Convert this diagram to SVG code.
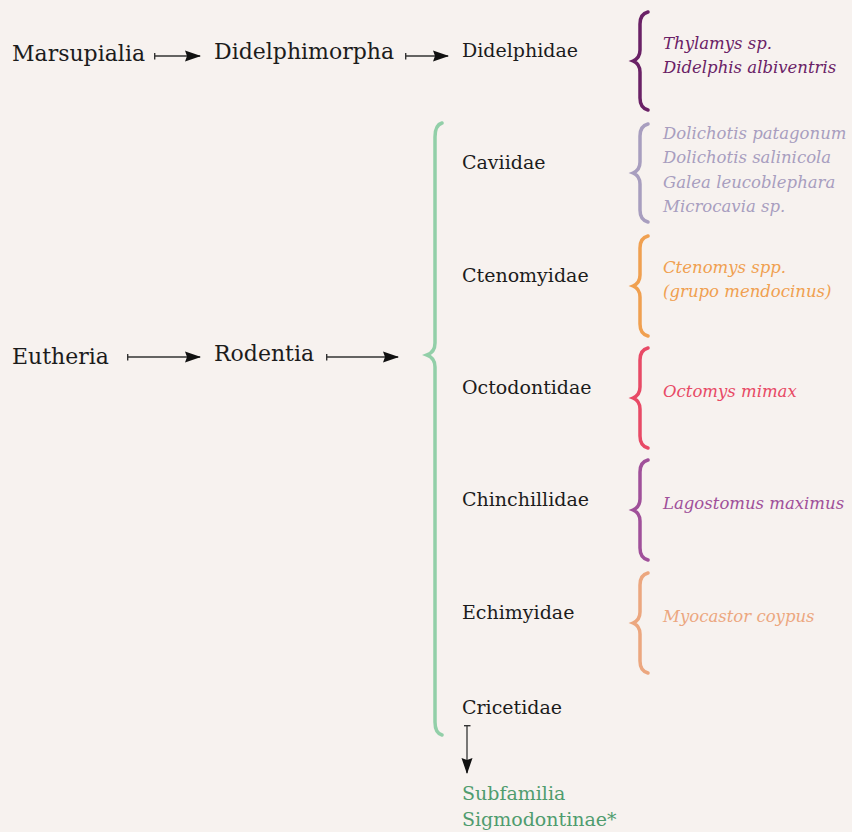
<svg xmlns="http://www.w3.org/2000/svg" width="852" height="832" viewBox="0 0 852 832">
<style>
.big{font-family:"DejaVu Serif","Liberation Serif",serif;font-size:22px;fill:#1c1c1c}
.fam{font-family:"DejaVu Serif","Liberation Serif",serif;font-size:19px;fill:#1c1c1c}
.sp{font-family:"DejaVu Serif","Liberation Serif",serif;font-style:italic;font-size:16.5px}
.br{fill:none;stroke-width:3.5;stroke-linecap:round}
.con{stroke:#333;stroke-width:1.3;fill:none;marker-start:url(#tick);marker-end:url(#head)}
</style>
<defs>
<marker id="head" markerUnits="userSpaceOnUse" viewBox="0 0 16 12" markerWidth="16" markerHeight="12" refX="15" refY="6" orient="auto">
<path d="M0,0.5 L16,6 L0,11.5 L2,6 z" fill="#111"/>
</marker>
<marker id="tick" markerUnits="userSpaceOnUse" viewBox="0 0 2 7" markerWidth="2" markerHeight="7" refX="1" refY="3.5" orient="auto">
<rect x="0" y="0" width="1.4" height="7" fill="#333"/>
</marker>
</defs>
<rect width="852" height="832" fill="#f7f2ef"/>
<g id="connectors">
<line class="con" x1="155" y1="56" x2="200" y2="56"/>
<line class="con" x1="406" y1="56" x2="448" y2="56"/>
<line class="con" x1="128" y1="357" x2="200" y2="357"/>
<line class="con" x1="327" y1="357" x2="398" y2="357"/>
<line class="con" x1="467" y1="726" x2="467" y2="773"/>
<path class="br" stroke="#92cfa8" stroke-width="4" d="M442,123 Q435,125 435,137 L435,343 Q435,352 427,355 Q435,358 435,367 L435,722 Q435,733 442,735"/>
</g>
<g id="n-marsupialia"><text class="big" x="12" y="61">Marsupialia</text></g>
<g id="n-didelphimorpha"><text class="big" x="214" y="59">Didelphimorpha</text></g>
<g id="n-didelphidae"><text class="fam" x="462" y="57">Didelphidae</text></g>
<g id="n-eutheria"><text class="big" x="12" y="364">Eutheria</text></g>
<g id="n-rodentia"><text class="big" x="214" y="361">Rodentia</text></g>
<g id="n-caviidae"><text class="fam" x="462" y="169">Caviidae</text></g>
<g id="n-ctenomyidae"><text class="fam" x="462" y="282">Ctenomyidae</text></g>
<g id="n-octodontidae"><text class="fam" x="462" y="394">Octodontidae</text></g>
<g id="n-chinchillidae"><text class="fam" x="462" y="506">Chinchillidae</text></g>
<g id="n-echimyidae"><text class="fam" x="462" y="619">Echimyidae</text></g>
<g id="n-cricetidae"><text class="fam" x="462" y="714">Cricetidae</text></g>
<g id="n-sigmodontinae"><text class="fam" x="462" y="800" style="fill:#4f9c6e">Subfamilia</text><text class="fam" x="462" y="826" style="fill:#4f9c6e">Sigmodontinae*</text></g>
<g id="s-didelphidae">
<path class="br" stroke="#6a2166" d="M648,12 Q640,14 640,24 L640,50 Q640,58 633,61 Q640,64 640,72 L640,98 Q640,108 648,110"/>
<text class="sp" fill="#6a2166" x="663" y="49">Thylamys sp.</text>
<text class="sp" fill="#6a2166" x="663" y="73">Didelphis albiventris</text>
</g>
<g id="s-caviidae">
<path class="br" stroke="#a89ebf" d="M648,124 Q640,126 640,136 L640,162 Q640,170 633,173 Q640,176 640,184 L640,210 Q640,220 648,222"/>
<text class="sp" fill="#a89ebf" x="663" y="139">Dolichotis patagonum</text>
<text class="sp" fill="#a89ebf" x="663" y="163">Dolichotis salinicola</text>
<text class="sp" fill="#a89ebf" x="663" y="188">Galea leucoblephara</text>
<text class="sp" fill="#a89ebf" x="663" y="212">Microcavia sp.</text>
</g>
<g id="s-ctenomyidae">
<path class="br" stroke="#f0a050" d="M648,236 Q640,238 640,248 L640,275 Q640,283 633,286 Q640,289 640,297 L640,324 Q640,334 648,336"/>
<text class="sp" fill="#f0a050" x="663" y="273">Ctenomys spp.</text>
<text class="sp" fill="#f0a050" x="663" y="297">(grupo mendocinus)</text>
</g>
<g id="s-octodontidae">
<path class="br" stroke="#e84a66" d="M648,348 Q640,350 640,360 L640,387 Q640,395 633,398 Q640,401 640,409 L640,436 Q640,446 648,448"/>
<text class="sp" fill="#e84a66" x="663" y="397">Octomys mimax</text>
</g>
<g id="s-chinchillidae">
<path class="br" stroke="#a0509a" d="M648,460 Q640,462 640,472 L640,499 Q640,507 633,510 Q640,513 640,521 L640,548 Q640,558 648,560"/>
<text class="sp" fill="#a0509a" x="663" y="509">Lagostomus maximus</text>
</g>
<g id="s-echimyidae">
<path class="br" stroke="#eca77f" d="M648,573 Q640,575 640,585 L640,612 Q640,620 633,623 Q640,626 640,634 L640,661 Q640,671 648,673"/>
<text class="sp" fill="#eca77f" x="663" y="622">Myocastor coypus</text>
</g>
</svg>
